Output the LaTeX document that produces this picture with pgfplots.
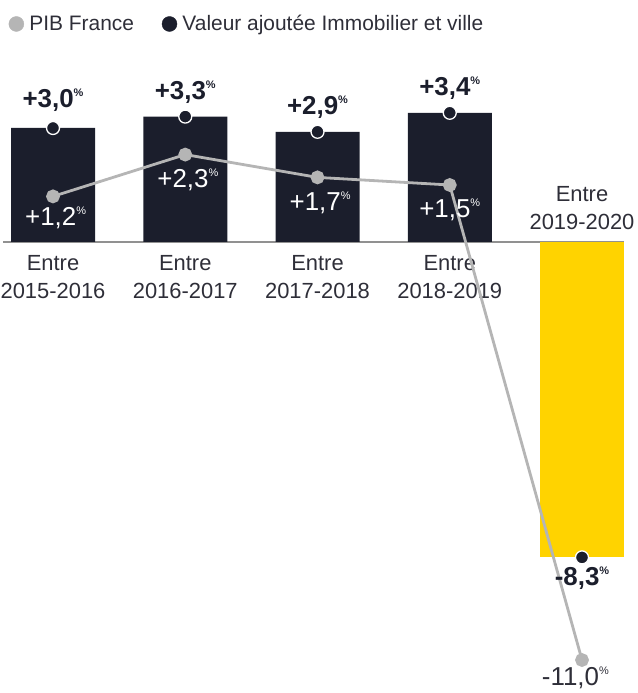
\documentclass[border=0pt]{standalone}
\usepackage{pgfplots}
\pgfplotsset{compat=1.18}
\usepackage{fontspec}
\setmainfont{Liberation Sans}
\definecolor{navy}{HTML}{1B1E2C}
\definecolor{eyyellow}{HTML}{FFD300}
\definecolor{pibgray}{HTML}{B5B5B5}
\definecolor{txtgray}{HTML}{2E2E38}
\newcommand{\pct}{\raisebox{0.42em}{\fontsize{11}{11}\selectfont\%}}
\newcommand{\vbold}[1]{{\fontsize{26}{28}\selectfont\bfseries #1\pct}}
\newcommand{\vreg}[1]{{\fontsize{26}{28}\selectfont #1\pct}}
\begin{document}
\begin{tikzpicture}
\begin{axis}[
  scale only axis,
  width=638bp, height=693bp,
  xmin=-0.4008, xmax=4.4234,
  ymin=-11.868, ymax=6.368,
  hide axis,
  clip=false,
  legend style={at={(rel axis cs:0.0136,0.9654)}, anchor=west, draw=none,
    fill=none, font=\fontsize{21}{24}\selectfont\color{txtgray},
    legend columns=-1, inner sep=0pt,
    /tikz/every odd column/.append style={column sep=3.5bp},
    /tikz/every even column/.append style={column sep=26bp}},
]
\path (rel axis cs:0,0) rectangle (rel axis cs:1,1);
% baseline
\draw[pibgray!80!black, line width=1.2bp] (axis cs:-0.378,0) -- (axis cs:4.32,0);

% bars: valeur ajoutee Immobilier et ville
\addplot[ybar, bar width=84bp, bar shift=0pt, fill=navy, draw=none, forget plot]
  coordinates {(0,3.0) (1,3.3) (2,2.9) (3,3.4)};
\addplot[ybar, bar width=84bp, bar shift=0pt, fill=eyyellow, draw=none, forget plot]
  coordinates {(4,-8.3)};

% category labels
\foreach \i/\lab in {0/2015-2016,1/2016-2017,2/2017-2018,3/2018-2019}{
  \edef\tmp{\noexpand\node[align=center, inner sep=0pt, font=\noexpand\fontsize{22}{28}\noexpand\selectfont, text=txtgray]
    at (axis cs:\i,-0.92) {Entre\\\lab};}\tmp
}
\node[align=center, inner sep=0pt, font=\fontsize{22}{28}\selectfont, text=txtgray]
  at (axis cs:4,0.89) {Entre\\2019-2020};

% PIB France
\addplot[pibgray, line width=2.8bp, mark=*, mark size=5.5bp,
  mark options={fill=pibgray, draw=pibgray}, forget plot]
  coordinates {(0,1.2) (1,2.3) (2,1.7) (3,1.5) (4,-11.0)};

% VA markers
\addplot[only marks, mark=*, mark size=6.5bp,
  mark options={fill=navy, draw=white, line width=1.3bp}, forget plot]
  coordinates {(0,3.0) (1,3.3) (2,2.9) (3,3.4) (4,-8.3)};

% value labels VA
\node[inner sep=0pt, text=navy] at (axis cs:0.0,3.74) {\vbold{+3,0}};
\node[inner sep=0pt, text=navy] at (axis cs:1.0,3.95) {\vbold{+3,3}};
\node[inner sep=0pt, text=navy] at (axis cs:2.0,3.55) {\vbold{+2,9}};
\node[inner sep=0pt, text=navy] at (axis cs:3.0,4.05) {\vbold{+3,4}};
\node[inner sep=0pt, text=navy] at (axis cs:4.0,-8.84) {\vbold{-8,3}};

% value labels PIB
\node[inner sep=0pt, text=white] at (axis cs:0.02,0.63) {\vreg{+1,2}};
\node[inner sep=0pt, text=white] at (axis cs:1.02,1.63) {\vreg{+2,3}};
\node[inner sep=0pt, text=white] at (axis cs:2.02,1.03) {\vreg{+1,7}};
\node[inner sep=0pt, text=white] at (axis cs:3.0,0.84) {\vreg{+1,5}};
\node[inner sep=0pt, text=txtgray] at (axis cs:3.95,-11.48) {\vreg{-11,0}};

% legend
\addlegendimage{only marks, mark=*, mark size=7.5bp, mark options={fill=pibgray, draw=pibgray}}
\addlegendentry{PIB France}
\addlegendimage{only marks, mark=*, mark size=7.5bp, mark options={fill=navy, draw=navy}}
\addlegendentry{Valeur ajoutée Immobilier et ville}
\end{axis}
\end{tikzpicture}
\end{document}
